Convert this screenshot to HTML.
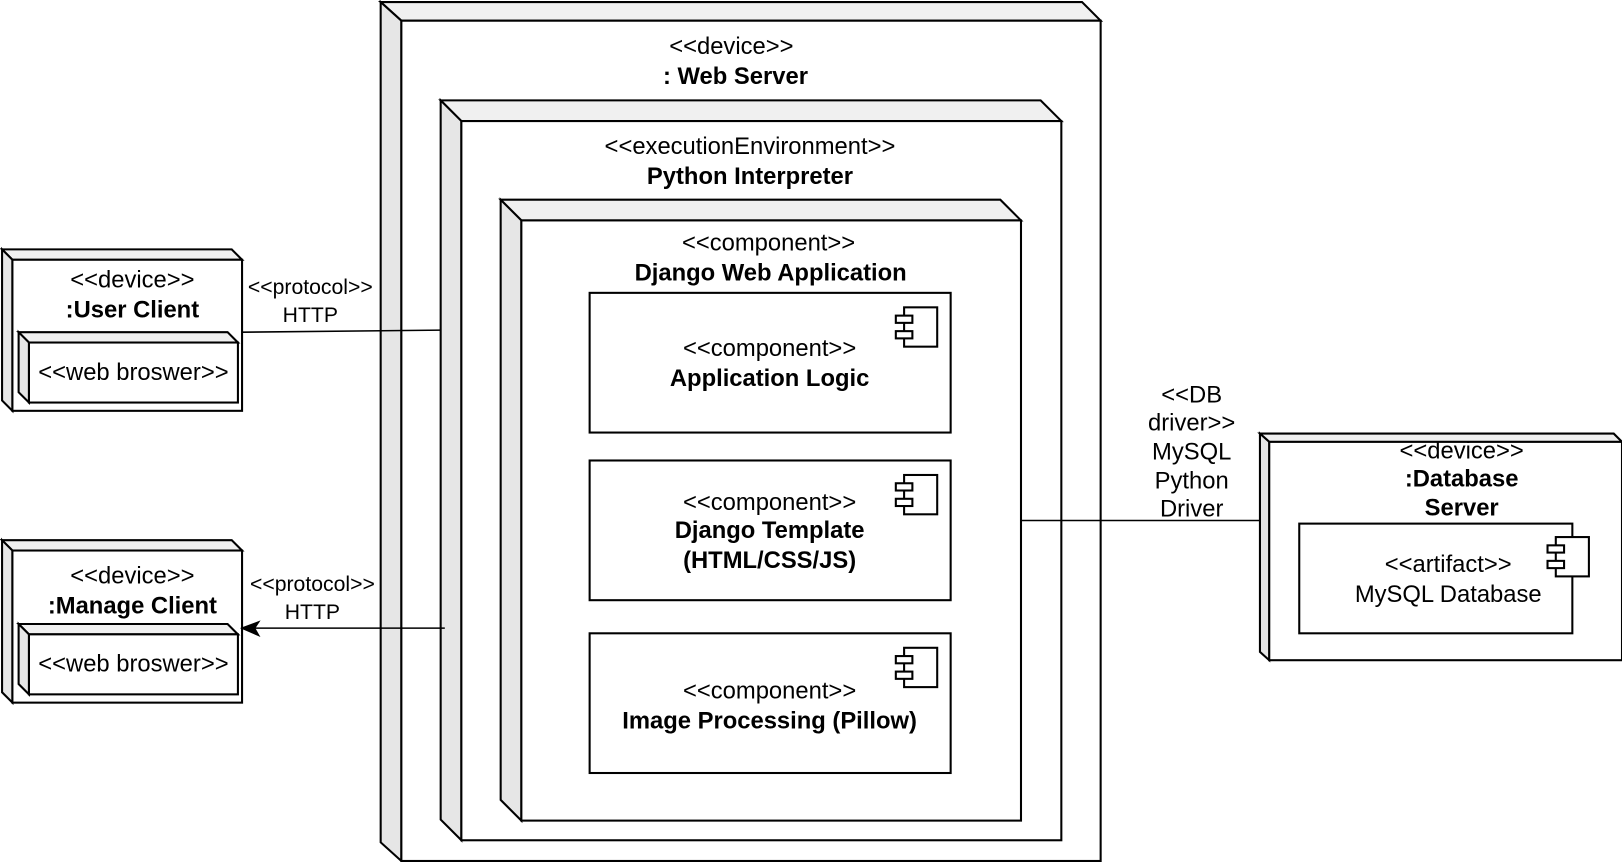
<!DOCTYPE html>
<html><head><meta charset="utf-8"><style>
html,body{margin:0;padding:0;background:#fff;}
svg{display:block;}
text{font-family:"Liberation Sans",Arial,sans-serif;fill:#000;}
</style></head><body>
<svg width="1622" height="862" viewBox="0 0 1568 833" preserveAspectRatio="none" xmlns="http://www.w3.org/2000/svg">
<defs>
<g id="ico"><rect x="8" y="0" width="32" height="38" fill="#fff" stroke="#000" stroke-width="2"/><rect x="0" y="8" width="16" height="7" fill="#fff" stroke="#000" stroke-width="2"/><rect x="0" y="23" width="16" height="7" fill="#fff" stroke="#000" stroke-width="2"/></g>
</defs>
<g stroke="#000" stroke-width="2" stroke-linejoin="miter">
<polygon points="368,2 1046,2 1064,20 388,20" fill="#f0f0f0"/>
<polygon points="368,2 388,20 388,832 368,814" fill="#e6e6e6"/>
<rect x="388" y="20" width="676" height="812" fill="#fff"/>
<polygon points="426,97 1006,97 1026,117 446,117" fill="#f0f0f0"/>
<polygon points="426,97 446,117 446,812 426,792" fill="#e6e6e6"/>
<rect x="446" y="117" width="580" height="695" fill="#fff"/>
<polygon points="484,193 967,193 987,213 504,213" fill="#f0f0f0"/>
<polygon points="484,193 504,213 504,793 484,773" fill="#e6e6e6"/>
<rect x="504" y="213" width="483" height="580" fill="#fff"/>
<rect x="570" y="283" width="349" height="135" fill="#fff"/>
<rect x="570" y="445" width="349" height="135" fill="#fff"/>
<rect x="570" y="612" width="349" height="135" fill="#fff"/>
<polygon points="2,241 224,241 234,251 12,251" fill="#f0f0f0"/>
<polygon points="2,241 12,251 12,397 2,387" fill="#e6e6e6"/>
<rect x="12" y="251" width="222" height="146" fill="#fff"/>
<polygon points="18,321 220,321 230,331 28,331" fill="#f0f0f0"/>
<polygon points="18,321 28,331 28,389 18,379" fill="#e6e6e6"/>
<rect x="28" y="331" width="202" height="58" fill="#fff"/>
<polygon points="2,522 224,522 234,532 12,532" fill="#f0f0f0"/>
<polygon points="2,522 12,532 12,679 2,669" fill="#e6e6e6"/>
<rect x="12" y="532" width="222" height="147" fill="#fff"/>
<polygon points="18,603 220,603 230,613 28,613" fill="#f0f0f0"/>
<polygon points="18,603 28,613 28,671 18,661" fill="#e6e6e6"/>
<rect x="28" y="613" width="202" height="58" fill="#fff"/>
<polygon points="1218,419 1560,419 1568,427 1227,427" fill="#f0f0f0"/>
<polygon points="1218,419 1227,427 1227,638 1218,630" fill="#e6e6e6"/>
<rect x="1227" y="427" width="341" height="211" fill="#fff"/>
<rect x="1256" y="506" width="264" height="106" fill="#fff"/>
<line x1="234" y1="321" x2="426" y2="319" stroke-width="1.5"/>
<line x1="430" y1="607" x2="246" y2="607" stroke-width="1.5"/>
<line x1="987" y1="503" x2="1218" y2="503" stroke-width="1.5"/>
</g>
<polygon points="234,607 250,601 246,607 250,614" fill="#000" stroke="#000" stroke-width="1.5"/>
<use href="#ico" x="866" y="297"/>
<use href="#ico" x="866" y="459"/>
<use href="#ico" x="866" y="626"/>
<use href="#ico" x="1496" y="519"/>
<g font-size="23" text-anchor="middle">
<text x="707" y="52">&lt;&lt;device&gt;&gt;</text>
<text x="711" y="81" font-weight="bold">: Web Server</text>
<text x="725" y="149">&lt;&lt;executionEnvironment&gt;&gt;</text>
<text x="725" y="178" font-weight="bold">Python Interpreter</text>
<text x="743" y="242">&lt;&lt;component&gt;&gt;</text>
<text x="745" y="271" font-weight="bold">Django Web Application</text>
<text x="744" y="344">&lt;&lt;component&gt;&gt;</text>
<text x="744" y="373" font-weight="bold">Application Logic</text>
<text x="744" y="493">&lt;&lt;component&gt;&gt;</text>
<text x="744" y="520" font-weight="bold">Django Template</text>
<text x="744" y="549" font-weight="bold">(HTML/CSS/JS)</text>
<text x="744" y="675">&lt;&lt;component&gt;&gt;</text>
<text x="744" y="704" font-weight="bold">Image Processing (Pillow)</text>
<text x="128" y="278">&lt;&lt;device&gt;&gt;</text>
<text x="128" y="307" font-weight="bold">:User Client</text>
<text x="129" y="367">&lt;&lt;web broswer&gt;&gt;</text>
<text x="128" y="564">&lt;&lt;device&gt;&gt;</text>
<text x="128" y="593" font-weight="bold">:Manage Client</text>
<text x="129" y="649">&lt;&lt;web broswer&gt;&gt;</text>
<text x="1413" y="443">&lt;&lt;device&gt;&gt;</text>
<text x="1413" y="470" font-weight="bold">:Database</text>
<text x="1413" y="498" font-weight="bold">Server</text>
<text x="1400" y="553">&lt;&lt;artifact&gt;&gt;</text>
<text x="1400" y="582">MySQL Database</text>
<text x="1152" y="389">&lt;&lt;DB</text>
<text x="1152" y="416">driver&gt;&gt;</text>
<text x="1152" y="444">MySQL</text>
<text x="1152" y="472">Python</text>
<text x="1152" y="499">Driver</text>
</g>
<g font-size="20.5" text-anchor="middle">
<text x="300" y="284">&lt;&lt;protocol&gt;&gt;</text>
<text x="300" y="311">HTTP</text>
<text x="302" y="571">&lt;&lt;protocol&gt;&gt;</text>
<text x="302" y="598">HTTP</text>
</g>
</svg>
</body></html>
